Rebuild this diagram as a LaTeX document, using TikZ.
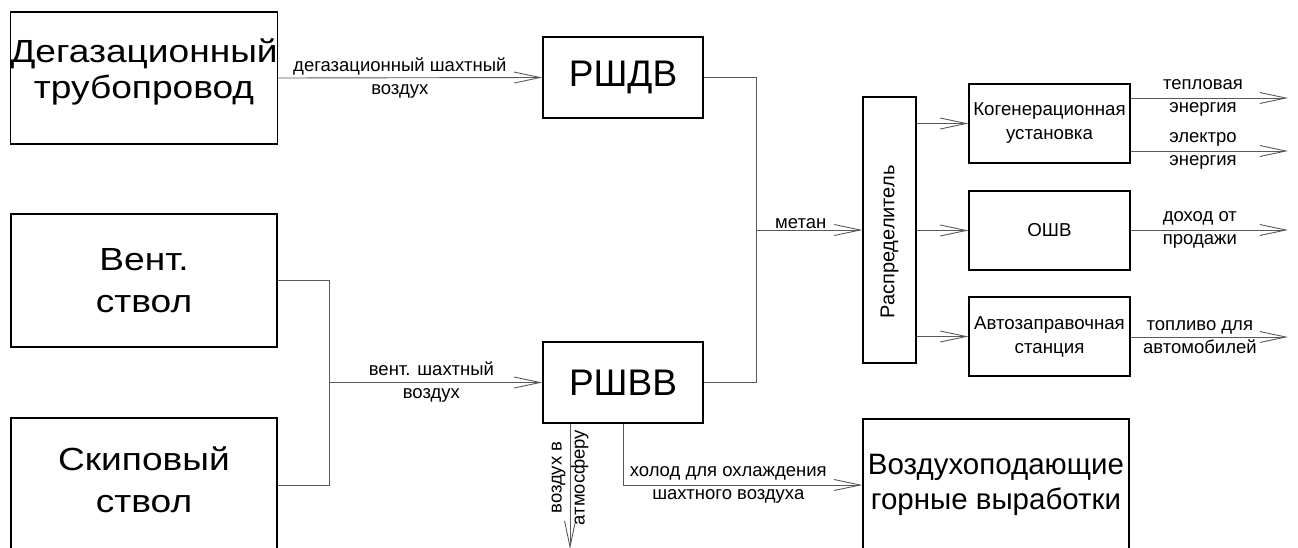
\documentclass[tikz,border=0pt]{standalone}
\usepackage{fontspec}
\setmainfont{Liberation Sans}
\newfontfamily\widesans[FakeStretch=1.16]{Liberation Sans}
\usepackage{graphicx}
\usepackage{tikz}
\usetikzlibrary{arrows.meta}

\begin{document}
\begin{tikzpicture}[
		x=1pt, y=-1pt,
		src/.style={draw, line width=1.4pt, minimum width=266pt, minimum height=132pt, align=center, inner sep=0pt, font=\widesans\fontsize{32}{42}\selectfont},
		sep/.style={draw, line width=1.4pt, minimum width=160pt, minimum height=81pt, inner sep=0pt, font=\fontsize{37}{44}\selectfont},
		unit/.style={draw, line width=1.2pt, minimum width=161pt, minimum height=79pt, align=center, inner sep=0pt, font=\fontsize{18.7}{24}\selectfont},
		wire/.style={line width=0.9pt, draw=black!65},
		flow/.style={wire, -{Straight Barb[length=26pt, width=11pt]}},
		item/.style={font=\fontsize{18.5}{23}\selectfont, align=center, inner sep=1pt}]
		\clip (0,0) rectangle (1298,547);

		\node[src, font=\widesans\fontsize{32}{36}\selectfont, text depth=19pt] (deg) at (144,78) {Дегазационный\\трубопровод};
		\node[src, minimum height=133pt] (vent) at (144,280.5) {Вент.\\ствол};
		\node[src, minimum height=134pt, text depth=10pt] (skip) at (144,485) {Скиповый\\ствол};

		\node[sep] (rshdv) at (623,77.5) {РШДВ};
		\node[sep] (rshvv) at (623,382.5) {РШВВ};

		\node[draw, line width=1.2pt, minimum width=53pt, minimum height=266pt] (raspr) at (889.5,230) {};
		\node[rotate=90, inner sep=0pt, font=\fontsize{20}{24}\selectfont] (raspr-lbl) at (889.5,242) {Распределитель};

		\node[unit] (kogen) at (1049.5,123.5) {Когенерационная\\установка};
		\node[unit] (oshv) at (1049.5,230.5) {ОШВ};
		\node[unit] (azs) at (1049.5,336.5) {Автозаправочная\\станция};

		\node[src, font=\fontsize{29.5}{35}\selectfont] (vozd) at (996,485) {Воздухоподающие\\горные выработки};

		\coordinate (jv) at (329,382.5);
		\coordinate (jm) at (756,230);
		\coordinate (heat) at (1288,98);
		\coordinate (power) at (1288,151);
		\coordinate (sale) at (1288,230);
		\coordinate (fuel) at (1288,337);
		\coordinate (atm) at (570,549);

		\draw[flow] (deg.east) -- node[pos=0.46, item] {дегазационный шахтный\\воздух} (rshdv.west);

		\draw[wire] (vent.east) -| (jv);
		\draw[wire] (skip.east) -| (jv);
		\draw[flow] (jv) -- node[pos=0.48, item] {вент. шахтный\\воздух} (rshvv.west);

		\draw[wire] (rshdv.east) -| (jm);
		\draw[wire] (rshvv.east) -| (jm);
		\draw[flow] (jm) -- node[pos=0.42, above, item] {метан} (raspr.west);

		\draw[flow] (raspr.east |- kogen) -- (kogen.west);
		\draw[flow] (raspr.east |- oshv) -- (oshv.west);
		\draw[flow] (raspr.east |- azs) -- (azs.west);

		\draw[flow] (kogen.east |- heat) -- node[pos=0.46, item] {тепловая\\энергия} (heat);
		\draw[flow] (kogen.east |- power) -- node[pos=0.46, item] {электро\\энергия} (power);
		\draw[flow] (oshv.east |- sale) -- node[pos=0.44, item] {доход от\\продажи} (sale);
		\draw[flow] (azs.east |- fuel) -- node[pos=0.44, item] {топливо для\\автомобилей} (fuel);

		\draw[flow] (rshvv.south -| atm) -- node[pos=0.43, rotate=90, item] {воздух в\\атмосферу} (atm);
		\draw[flow] (rshvv.south) |- node[pos=0.72, item] {холод для охлаждения\\шахтного воздуха} (vozd.west);
	\end{tikzpicture}
\end{document}
